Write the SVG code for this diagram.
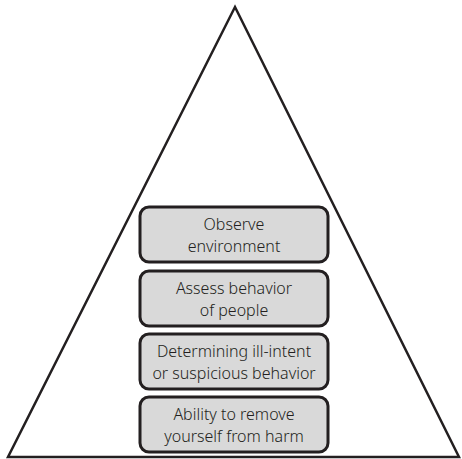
<svg xmlns="http://www.w3.org/2000/svg" width="462" height="459" viewBox="0 0 462 459">
<style>
.box{fill:#d9d9d9;stroke:#231f20;stroke-width:3}
.lbl{font-family:"Noto Sans","Liberation Sans",sans-serif;font-size:16px;font-weight:300;fill:#231f20;text-anchor:middle}
.tri{fill:none;stroke:#231f20;stroke-width:2.5;stroke-linejoin:miter}
</style>
<rect width="462" height="459" fill="#ffffff"/>
<g id="pyramid"><path class="tri" d="M235,7 L8,457 L459,457 Z"/></g>
<g id="connectors"></g>
<g id="node1"><rect class="box" x="140" y="207" width="188" height="55" rx="9"/>
<text class="lbl" x="234" y="230">Observe</text><text class="lbl" x="234" y="252">environment</text></g>
<g id="node2"><rect class="box" x="140" y="271" width="188" height="55" rx="9"/>
<text class="lbl" x="234" y="294">Assess behavior</text><text class="lbl" x="234" y="316">of people</text></g>
<g id="node3"><rect class="box" x="140" y="334" width="188" height="55" rx="9"/>
<text class="lbl" x="234" y="357">Determining ill-intent</text><text class="lbl" x="234" y="379">or suspicious behavior</text></g>
<g id="node4"><rect class="box" x="140" y="397" width="188" height="55" rx="9"/>
<text class="lbl" x="234" y="420">Ability to remove</text><text class="lbl" x="234" y="442">yourself from harm</text></g>
</svg>
